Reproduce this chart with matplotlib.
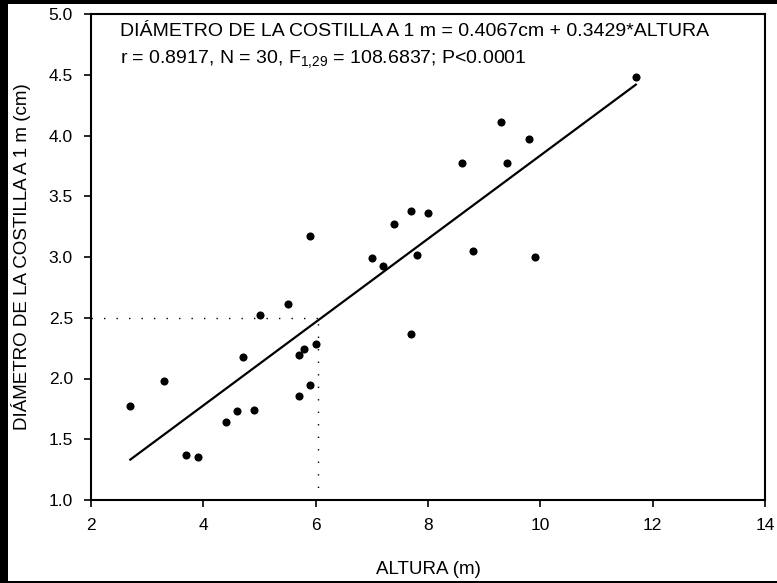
import matplotlib
matplotlib.use("Agg")
import matplotlib.pyplot as plt
from matplotlib.patches import Rectangle
import numpy as np

plt.rcParams['font.family'] = ['Liberation Sans', 'DejaVu Sans']
plt.rcParams['mathtext.fontset'] = 'custom'
plt.rcParams['mathtext.rm'] = 'Liberation Sans'
plt.rcParams['mathtext.it'] = 'Liberation Sans:italic'

# Data
altura = [2.7, 3.3, 3.7, 3.9, 4.4, 4.6, 4.9, 4.7, 5.0, 5.5,
          5.7, 5.9, 5.7, 5.8, 6.0, 5.9, 7.0, 7.2, 7.4, 7.7,
          8.0, 7.8, 7.7, 8.8, 8.6, 9.4, 9.3, 9.8, 9.9, 11.7]
diametro = [1.77, 1.98, 1.37, 1.35, 1.64, 1.73, 1.74, 2.18, 2.52, 2.61,
            1.86, 1.95, 2.19, 2.24, 2.28, 3.17, 2.99, 2.93, 3.27, 3.38,
            3.36, 3.02, 2.37, 3.05, 3.77, 3.77, 4.11, 3.97, 3.00, 4.48]
intercept = 0.4067
slope = 0.3429
ref_y = 2.5
ref_x = 6.05
xticks = [2, 4, 6, 8, 10, 12, 14]
yticks = [1.0, 1.5, 2.0, 2.5, 3.0, 3.5, 4.0, 4.5, 5.0]
ytick_labels = ['1.0', '1.5', '2.0', '2.5', '3.0', '3.5', '4.0', '4.5', '5.0']
eq_line1 = "DIÁMETRO DE LA COSTILLA A 1 m = 0.4067cm + 0.3429*ALTURA"
eq_line2 = r"r = 0.8917, N = 30, F$_{\mathrm{1{,}29}}$ = 108.6837; P<0.0001"
xlabel = "ALTURA (m)"
ylabel = "DIÁMETRO DE LA COSTILLA A 1 m (cm)"

W, H = 777, 583
fig = plt.figure(figsize=(W / 100, H / 100), dpi=100, facecolor='black')
fig.patches.append(Rectangle((8 / W, 2 / H), 1 - 8 / W, 1 - 6 / H,
                             transform=fig.transFigure, facecolor='white',
                             edgecolor='none', zorder=-10))

ax = fig.add_axes([91 / W, 1 - 500 / H, (765 - 91) / W, (500 - 14) / H])
ax.set_facecolor('white')

ax.scatter(altura, diametro, s=34, color='black', zorder=3, linewidths=0)
xs = np.array([min(altura), max(altura)])
ax.plot(xs, intercept + slope * xs, color='black', lw=1.6, zorder=2)

ax.plot([2, ref_x], [ref_y, ref_y], color='black', lw=1.0, ls=(0, (1, 8)))
ax.plot([ref_x, ref_x], [1.0, ref_y], color='black', lw=1.0, ls=(0, (1, 8)))

ax.set_xlim(2, 14)
ax.set_ylim(1.0, 5.0)
ax.set_xticks(xticks)
ax.set_yticks(yticks)
ax.set_yticklabels(ytick_labels)
ax.tick_params(direction='out', length=5, width=1.2, labelsize=12.5, pad=8,
               colors='black')
for s in ax.spines.values():
    s.set_linewidth(1.5)
    s.set_color('black')

ax.set_xlabel(xlabel, fontsize=13.5)
ax.set_ylabel(ylabel, fontsize=13.5)
ax.xaxis.label.set_va('center')
ax.yaxis.label.set_va('center')
ax.xaxis.set_label_coords(0.5, (500 - 569) / 486)
ax.yaxis.set_label_coords((21 - 91) / 674, 0.5)

ax.text(0.043, 0.955, eq_line1, transform=ax.transAxes, fontsize=14,
        va='baseline', ha='left')
ax.text(0.043, 0.899, eq_line2, transform=ax.transAxes, fontsize=14,
        va='baseline', ha='left')

fig.savefig('out.png', dpi=100, facecolor=fig.get_facecolor())
